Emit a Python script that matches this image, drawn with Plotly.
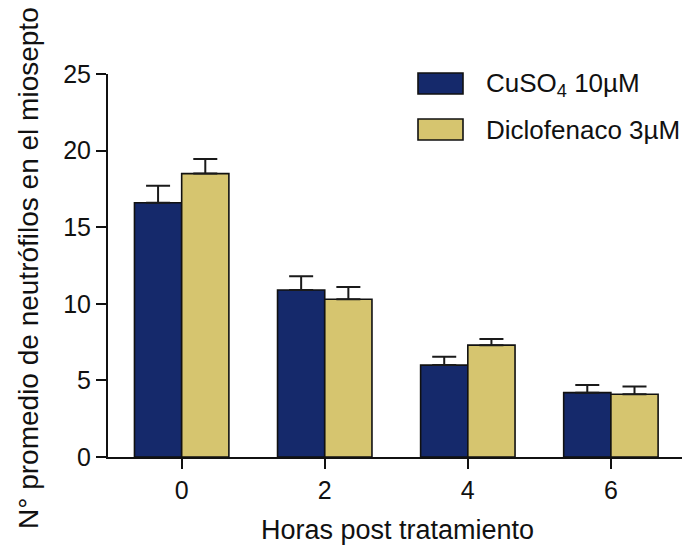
import plotly.graph_objects as go

# Hours after treatment (category labels)
horas = ["0", "2", "4", "6"]

# Mean neutrophil counts and their SEM (upper bars only)
cuso4 = [16.6, 10.9, 6.0, 4.2]
cuso4_err = [1.1, 0.9, 0.55, 0.5]
diclofenaco = [18.5, 10.3, 7.3, 4.1]
diclofenaco_err = [0.95, 0.8, 0.4, 0.5]

serie_nombres = ["CuSO<sub>4</sub> 10µM", "Diclofenaco 3µM"]
colores = ["#15296b", "#d6c56f"]

y_ticks = [0, 5, 10, 15, 20, 25]

FONT = "Arial, 'Liberation Sans', sans-serif"

W, H = 687, 552
L, R, T, B = 108, 5, 74, 95
pw = W - L - R
ph = H - T - B

fig = go.Figure()
for vals, errs, name, col in [
    (cuso4, cuso4_err, serie_nombres[0], colores[0]),
    (diclofenaco, diclofenaco_err, serie_nombres[1], colores[1]),
]:
    fig.add_trace(go.Bar(
        x=horas, y=vals, name=name,
        marker=dict(color=col, line=dict(color="#111111", width=1.6)),
        error_y=dict(type="data", array=errs, arrayminus=[0] * len(errs),
                     symmetric=False, color="#1a1a1a", thickness=2, width=12),
        showlegend=False,
    ))

# Legend drawn as swatches with text labels
def px_x(x):
    return (x - L) / pw

def px_y(y):
    return (H - B - y) / ph

shapes = []
annotations = []
for i, (name, col) in enumerate(zip(serie_nombres, colores)):
    top = 73 + i * 46
    shapes.append(dict(type="rect", xref="paper", yref="paper",
                       x0=px_x(418), x1=px_x(463), y0=px_y(top + 21), y1=px_y(top),
                       fillcolor=col, line=dict(color="#111111", width=1.6)))
    annotations.append(dict(xref="paper", yref="paper", x=px_x(484), y=px_y(top + 11),
                            xanchor="left", yanchor="middle", text=name, showarrow=False,
                            font=dict(family=FONT, size=26, color="#111111")))

# Axis titles
annotations.append(dict(xref="paper", yref="paper", x=px_x(28), y=px_y(268),
                        xanchor="center", yanchor="middle", textangle=-90,
                        text="N° promedio de neutrófilos en el miosepto", showarrow=False,
                        font=dict(family=FONT, size=28, color="#111111")))
annotations.append(dict(xref="paper", yref="paper", x=px_x(397), y=px_y(530),
                        xanchor="center", yanchor="middle",
                        text="Horas post tratamiento", showarrow=False,
                        font=dict(family=FONT, size=27, color="#111111")))

fig.update_layout(
    width=W, height=H,
    margin=dict(l=L, r=R, t=T, b=B),
    paper_bgcolor="white", plot_bgcolor="white",
    barmode="group", bargap=0.34, bargroupgap=0,
    font=dict(family=FONT, color="#111111"),
    shapes=shapes, annotations=annotations,
    xaxis=dict(type="category", range=[-0.515, 3.497],
               showline=True, linecolor="#111111", linewidth=2,
               ticks="outside", ticklen=10, tickwidth=2, tickcolor="#111111",
               tickfont=dict(family=FONT, size=25, color="#111111"),
               showgrid=False, zeroline=False),
    yaxis=dict(range=[0, 25], tickvals=y_ticks,
               showline=True, linecolor="#111111", linewidth=2,
               ticks="outside", ticklen=10, tickwidth=2, tickcolor="#111111",
               tickfont=dict(family=FONT, size=25, color="#111111"),
               showgrid=False, zeroline=False),
)

fig.write_html("out.html")
